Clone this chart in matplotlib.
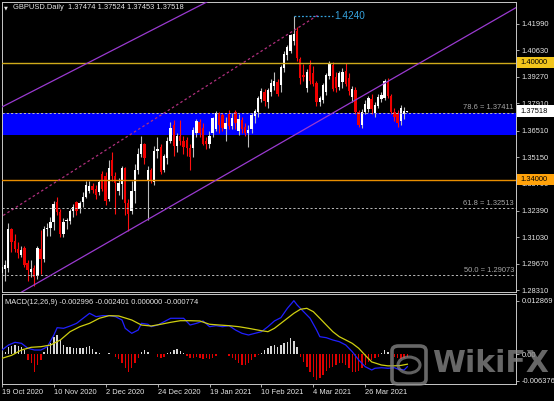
import numpy as np
import matplotlib
matplotlib.use("Agg")
import matplotlib.pyplot as plt
import matplotlib.transforms as mtransforms
from matplotlib.patches import Rectangle, FancyBboxPatch, Circle

plt.rcParams["font.family"] = ["Liberation Sans", "DejaVu Sans"]

# ── Dati (GBPUSD Daily) ────────────────────────────────────────────────────────
opens = [1.2920, 1.2938, 1.2945, 1.3145, 1.3085, 1.3045, 1.3010, 1.3050, 1.2970, 1.2925,
         1.2945, 1.2905, 1.3045, 1.2990, 1.3145, 1.3150, 1.3180, 1.3285, 1.3235, 1.3120,
         1.3185, 1.3185, 1.3240, 1.3285, 1.3250, 1.3285, 1.3310, 1.3340, 1.3365, 1.3350,
         1.3335, 1.3430, 1.3420, 1.3300, 1.3500, 1.3420, 1.3340, 1.3375, 1.3460, 1.3280,
         1.3240, 1.3340, 1.3450, 1.3530, 1.3585, 1.3390, 1.3450, 1.3385, 1.3545, 1.3565,
         1.3450, 1.3510, 1.3600, 1.3680, 1.3570, 1.3625, 1.3600, 1.3605, 1.3560, 1.3560,
         1.3640, 1.3695, 1.3665, 1.3600, 1.3580, 1.3640, 1.3660, 1.3740, 1.3730, 1.3660,
         1.3735, 1.3675, 1.3745, 1.3650, 1.3705, 1.3670, 1.3640, 1.3660, 1.3725, 1.3745,
         1.3815, 1.3850, 1.3800, 1.3850, 1.3880, 1.3900, 1.3885, 1.3975, 1.4040, 1.4060,
         1.4110, 1.4165, 1.4020, 1.3935, 1.3870, 1.3990, 1.3945, 1.3895, 1.3800, 1.3810,
         1.3850, 1.3930, 1.3990, 1.3925, 1.3875, 1.3900, 1.3955, 1.3920, 1.3825, 1.3860,
         1.3745, 1.3680, 1.3745, 1.3760, 1.3815, 1.3740, 1.3780, 1.3815, 1.3820, 1.3900,
         1.3830, 1.3745, 1.3735, 1.3700, 1.3735, 1.37474]
highs = [1.2990, 1.2985, 1.3175, 1.3150, 1.3120, 1.3080, 1.3060, 1.3060, 1.2985, 1.2985,
         1.2960, 1.3060, 1.3140, 1.3160, 1.3177, 1.3210, 1.3290, 1.3312, 1.3250, 1.3200,
         1.3200, 1.3250, 1.3275, 1.3290, 1.3290, 1.3335, 1.3395, 1.3390, 1.3380, 1.3370,
         1.3400, 1.3445, 1.3440, 1.3500, 1.3540, 1.3440, 1.3410, 1.3470, 1.3465, 1.3300,
         1.3390, 1.3480, 1.3560, 1.3625, 1.3590, 1.3470, 1.3460, 1.3570, 1.3620, 1.3580,
         1.3530, 1.3620, 1.3695, 1.3705, 1.3640, 1.3705, 1.3625, 1.3620, 1.3580, 1.3670,
         1.3712, 1.3712, 1.3690, 1.3620, 1.3650, 1.3720, 1.3750, 1.3745, 1.3740, 1.3720,
         1.3757, 1.3740, 1.3758, 1.3735, 1.3720, 1.3690, 1.3680, 1.3740, 1.3760, 1.3830,
         1.3870, 1.3865, 1.3870, 1.3918, 1.3950, 1.3915, 1.3990, 1.4060, 1.4090, 1.4150,
         1.4240, 1.4185, 1.4030, 1.3995, 1.3970, 1.4015, 1.3985, 1.3905, 1.3830, 1.3895,
         1.3945, 1.4010, 1.4005, 1.3950, 1.3960, 1.3975, 1.4000, 1.3945, 1.3880, 1.3875,
         1.3755, 1.3760, 1.3810, 1.3830, 1.3840, 1.3800, 1.3840, 1.3850, 1.3918, 1.3920,
         1.3840, 1.3770, 1.3755, 1.3785, 1.3775, 1.37524]
lows = [1.2905, 1.2880, 1.2925, 1.3030, 1.3030, 1.2995, 1.3000, 1.2950, 1.2880, 1.2900,
        1.2855, 1.2890, 1.2915, 1.2975, 1.3110, 1.3110, 1.3140, 1.3220, 1.3105, 1.3105,
        1.3145, 1.3170, 1.3210, 1.3220, 1.3230, 1.3260, 1.3305, 1.3330, 1.3330, 1.3300,
        1.3320, 1.3340, 1.3270, 1.3290, 1.3390, 1.3225, 1.3320, 1.3300, 1.3220, 1.3135,
        1.3225, 1.3280, 1.3430, 1.3515, 1.3480, 1.3190, 1.3380, 1.3370, 1.3510, 1.3430,
        1.3440, 1.3480, 1.3590, 1.3520, 1.3540, 1.3575, 1.3530, 1.3520, 1.3450, 1.3515,
        1.3620, 1.3620, 1.3575, 1.3555, 1.3560, 1.3620, 1.3650, 1.3640, 1.3650, 1.3600,
        1.3660, 1.3660, 1.3660, 1.3630, 1.3640, 1.3625, 1.3565, 1.3640, 1.3690, 1.3720,
        1.3800, 1.3780, 1.3765, 1.3830, 1.3860, 1.3830, 1.3850, 1.3950, 1.4015, 1.4050,
        1.4090, 1.4010, 1.3890, 1.3905, 1.3850, 1.3890, 1.3880, 1.3780, 1.3780, 1.3795,
        1.3835, 1.3915, 1.3855, 1.3850, 1.3860, 1.3870, 1.3880, 1.3835, 1.3800, 1.3735,
        1.3670, 1.3665, 1.3735, 1.3745, 1.3735, 1.3720, 1.3765, 1.3800, 1.3810, 1.3820,
        1.3735, 1.3700, 1.3670, 1.3680, 1.3710, 1.37453]
closes = [1.2950, 1.2960, 1.3145, 1.3080, 1.3045, 1.3025, 1.3040, 1.2960, 1.2935, 1.2940,
          1.2900, 1.3050, 1.2990, 1.3145, 1.3150, 1.3180, 1.3275, 1.3235, 1.3120, 1.3180,
          1.3190, 1.3240, 1.3260, 1.3240, 1.3280, 1.3310, 1.3370, 1.3365, 1.3345, 1.3320,
          1.3385, 1.3350, 1.3290, 1.3460, 1.3420, 1.3380, 1.3380, 1.3460, 1.3280, 1.3225,
          1.3340, 1.3450, 1.3530, 1.3585, 1.3510, 1.3450, 1.3390, 1.3545, 1.3555, 1.3440,
          1.3520, 1.3600, 1.3665, 1.3570, 1.3625, 1.3600, 1.3565, 1.3560, 1.3515, 1.3655,
          1.3700, 1.3640, 1.3585, 1.3580, 1.3625, 1.3715, 1.3740, 1.3680, 1.3665, 1.3690,
          1.3675, 1.3715, 1.3690, 1.3710, 1.3660, 1.3640, 1.3655, 1.3730, 1.3750, 1.3820,
          1.3855, 1.3805, 1.3860, 1.3895, 1.3905, 1.3840, 1.3980, 1.4045, 1.4080, 1.4140,
          1.4150, 1.4025, 1.3920, 1.3925, 1.3950, 1.3905, 1.3890, 1.3800, 1.3820, 1.3885,
          1.3935, 1.3995, 1.3865, 1.3870, 1.3945, 1.3950, 1.3890, 1.3855, 1.3865, 1.3745,
          1.3680, 1.3745, 1.3790, 1.3820, 1.3760, 1.3785, 1.3825, 1.3835, 1.3905, 1.3830,
          1.3745, 1.3720, 1.3690, 1.3770, 1.3750, 1.37518]

date_bars   = [0, 16, 32, 48, 64, 80, 96, 112]
date_labels = ["19 Oct 2020", "10 Nov 2020", "2 Dec 2020", "24 Dec 2020",
               "19 Jan 2021", "10 Feb 2021", "4 Mar 2021", "26 Mar 2021"]

price_ticks = [1.41990, 1.40630, 1.39270, 1.37910, 1.36510, 1.35150,
               1.33790, 1.32390, 1.31030, 1.29670, 1.28310]

macd_bar = [0, 2, 4, 6, 8, 10, 12, 14, 16, 17, 19, 21, 23, 25, 27, 29, 31, 33, 35, 37,
            38, 40, 42, 43, 45, 46, 48, 50, 52, 54, 56, 58, 60, 62, 64, 66, 68, 70, 72, 74,
            76, 78, 80, 82, 84, 86, 88, 90, 91, 93, 95, 97, 98, 100, 102, 104, 106, 108, 110,
            112, 114, 115, 117, 119, 121, 122, 124, 125]
macd_val = [0.00101, 0.00221, 0.00286, 0.00262, 0.00142, 0.00101, 0.00101, 0.00181, 0.00462,
            0.00638, 0.00623, 0.00678, 0.00743, 0.00864, 0.00984, 0.00903, 0.00927, 0.00927,
            0.00903, 0.00823, 0.00623, 0.00502, 0.00582, 0.00743, 0.00720, 0.00662, 0.00702,
            0.00782, 0.00864, 0.00864, 0.00864, 0.00702, 0.00743, 0.00799, 0.00662, 0.00686,
            0.00662, 0.00686, 0.00582, 0.00502, 0.00462, 0.00502, 0.00542, 0.00662, 0.00799,
            0.00880, 0.01104, 0.01287, 0.01184, 0.01023, 0.00864, 0.00582, 0.00421, 0.00397,
            0.00342, 0.00301, 0.00221, 0.00060, -0.00140, -0.00301, -0.00380, -0.00339,
            -0.00325, -0.00339, -0.00325, -0.00356, -0.00380, -0.00300]
sig_bar = [0, 3, 6, 9, 12, 15, 18, 21, 24, 27, 30, 33, 36, 40, 43, 46, 49, 52, 55, 58, 61,
           64, 67, 70, 73, 76, 80, 82, 84, 86, 88, 90, 92, 94, 96, 98, 100, 102, 104, 106,
           108, 110, 112, 114, 117, 119, 121, 123, 125]
sig_val = [-0.00099, -0.00026, 0.00101, 0.00166, 0.00181, 0.00221, 0.00342, 0.00542, 0.00662,
           0.00743, 0.00864, 0.00927, 0.00919, 0.00823, 0.00702, 0.00678, 0.00720, 0.00767,
           0.00806, 0.00806, 0.00799, 0.00720, 0.00702, 0.00686, 0.00662, 0.00623, 0.00565,
           0.00542, 0.00623, 0.00743, 0.00864, 0.00984, 0.01080, 0.01104, 0.01023, 0.00864,
           0.00702, 0.00542, 0.00421, 0.00342, 0.00261, 0.00142, -0.00026, -0.00186,
           -0.00260, -0.00280, -0.00280, -0.00270, -0.00240]
hist = [0.0002, 0.0006, 0.0018, 0.0020, 0.0022, 0.0020, 0.0018, 0.0010, -0.0014, -0.0022,
        -0.0042, -0.0026, -0.0014, 0.0006, 0.0018, 0.0026, 0.0041, 0.0046, 0.0034, 0.0022,
        0.0018, 0.0017, 0.0016, 0.0014, 0.0016, 0.0014, 0.0018, 0.0020, 0.0012, 0.0006,
        0.0002, 0.0001, 0.0001, 0.0002, 0.0001, -0.0006, -0.0012, -0.0020, -0.0032, -0.0044,
        -0.0034, -0.0022, -0.0008, 0.0006, 0.0010, 0.0006, 0.0001, 0.0001, -0.0006, -0.0008,
        -0.0006, 0.0002, 0.0006, 0.0010, 0.0012, 0.0008, 0.0002, -0.0004, -0.0010, -0.0008,
        -0.0006, -0.0008, -0.0011, -0.0010, -0.0011, -0.0008, -0.0004, 0.0001, 0.0001, 0.0001,
        -0.0005, -0.0010, -0.0014, -0.0020, -0.0025, -0.0026, -0.0022, -0.0014, -0.0006, -0.0002,
        0.0002, 0.0010, 0.0016, 0.0020, 0.0022, 0.0018, 0.0022, 0.0026, 0.0030, 0.0038,
        0.0032, 0.0018, -0.0006, -0.0018, -0.0030, -0.0042, -0.0054, -0.0062, -0.0058, -0.0050,
        -0.0040, -0.0034, -0.0030, -0.0026, -0.0022, -0.0020, -0.0026, -0.0034, -0.0042, -0.0044,
        -0.0040, -0.0034, -0.0026, -0.0018, -0.0014, -0.0010, -0.0006, 0.0002, 0.0010, 0.0006,
        0.0001, -0.0006, -0.0010, -0.0011, -0.0008, -0.000774]
macd_ticks  = [0.012869, 0.0, -0.006376]
macd_labels = ["0.012869", "0.00", "-0.006376"]

# livelli / oggetti disegnati
zone_lo, zone_hi = 1.3627, 1.37411
fib_levels = [(1.37411, "78.6 = 1.37411"), (1.32513, "61.8 = 1.32513"), (1.29073, "50.0 = 1.29073")]
upper_line = [(0.09, 1.3773), (63.2, 1.4312)]
lower_line = [(7.18, 1.2832), (158.8, 1.4286)]
fib_diag   = [(-1.0, 1.3200), (97.5, 1.4245)]
high_mark  = (90, 102, 1.4240)

# ── Layout in pixel ────────────────────────────────────────────────────────────
W, H, DPI = 554, 401, 100
FS = 5.4
TXT = "#E6E6E6"
FRAME = "#C8C8C8"


def box(x0, y0, x1, y1):
    return [x0 / W, 1 - y1 / H, (x1 - x0) / W, (y1 - y0) / H]


fig = plt.figure(figsize=(W / DPI, H / DPI), dpi=DPI, facecolor="black")
ax = fig.add_axes(box(2, 2, 516, 292), facecolor="black")
ax2 = fig.add_axes(box(2, 294, 516, 384), facecolor="black")

XLIM = (0.09, 158.49)
for a in (ax, ax2):
    a.set_xlim(*XLIM)
    for s in a.spines.values():
        s.set_color(FRAME)
        s.set_linewidth(0.7)
ax.set_ylim(1.28222, 1.43120)
ax2.set_ylim(-0.007169, 0.014482)

# ── Pannello prezzi ───────────────────────────────────────────────────────────
ax.axhspan(zone_lo, zone_hi, color="#0000FF", lw=0, zorder=1)

n = len(opens)
idx = np.arange(n)
o, h, l, c = (np.array(v) for v in (opens, highs, lows, closes))
up = c >= o
lo_b = np.minimum(o, c)
hb = np.maximum(np.abs(c - o), 0.00010)
ax.vlines(idx[up], l[up], h[up], color="#BDBDBD", lw=0.8, zorder=3)
ax.vlines(idx[~up], l[~up], h[~up], color="#FF1010", lw=0.8, zorder=3)
ax.bar(idx[up], hb[up], 0.72, bottom=lo_b[up], color="white", lw=0, zorder=4)
ax.bar(idx[~up], hb[~up], 0.72, bottom=lo_b[~up], color="#F00000", lw=0, zorder=4)

ax.axhline(1.40, color="#CFAA1A", lw=1.0, zorder=5)
ax.axhline(1.34, color="#E88E00", lw=1.0, zorder=5)

trans = mtransforms.blended_transform_factory(ax.transAxes, ax.transData)
for lvl, lab in fib_levels:
    ax.axhline(lvl, color="#BBBBBB", lw=0.7, ls=(0, (2.2, 2.2)), zorder=5)
    ax.annotate(lab, xy=(1, lvl), xycoords=trans, xytext=(-1.5, 1.2),
                textcoords="offset points", ha="right", va="bottom",
                fontsize=FS, color="#A8A8A8", zorder=6)

ax.axline(upper_line[0], upper_line[1], color="#9A3AD0", lw=0.9, zorder=5)
ax.axline(lower_line[0], lower_line[1], color="#9A3AD0", lw=0.9, zorder=5)
ax.plot([p[0] for p in fib_diag], [p[1] for p in fib_diag], color="#B0307E",
        lw=0.9, ls=(0, (2, 2)), zorder=5)

ax.plot([high_mark[0], high_mark[1]], [high_mark[2], high_mark[2]], color="#36A2DC",
        lw=0.9, ls=(0, (1.5, 1.5)), zorder=5)
ax.text(high_mark[1] + 0.6, high_mark[2], "1.4240", color="#36A2DC", fontsize=7.2,
        ha="left", va="center", zorder=6)

ax.yaxis.tick_right()
ax.set_yticks(price_ticks)
ax.set_yticklabels([f"{v:.5f}" for v in price_ticks])
ax.tick_params(axis="y", length=2.4, width=0.6, color=FRAME, pad=1.6,
               labelsize=FS, labelcolor=TXT)
ax.set_xticks([])

# etichette prezzo a destra
for price, lab, fc in [(1.40, "1.40000", "#F2C51C"), (1.37518, "1.37518", "white"),
                       (1.34, "1.34000", "#FFA20A")]:
    ax.add_patch(Rectangle((1.002, price - 5.6 / 1946.6), 37 / 514, 11.2 / 1946.6,
                           transform=trans, clip_on=False, fc=fc, ec="none", zorder=20))
    ax.text(1.008, price, lab, transform=trans, clip_on=False, ha="left", va="center",
            fontsize=FS, color="black", zorder=21)

# ── Pannello MACD ─────────────────────────────────────────────────────────────
hv = np.array(hist)
ax2.bar(idx[hv >= 0], hv[hv >= 0], 0.42, color="#D6D6D6", lw=0, zorder=2)
ax2.bar(idx[hv < 0], hv[hv < 0], 0.42, color="#E00000", lw=0, zorder=2)
ax2.plot(macd_bar, macd_val, color="#2020FF", lw=0.9, zorder=3)
ax2.plot(sig_bar, sig_val, color="#CFCF10", lw=0.9, zorder=3)

ax2.yaxis.tick_right()
ax2.set_yticks(macd_ticks)
ax2.set_yticklabels(macd_labels)
ax2.tick_params(axis="y", length=2.4, width=0.6, color=FRAME, pad=1.6,
                labelsize=FS, labelcolor=TXT)
ax2.set_xticks(date_bars)
ax2.set_xticklabels(date_labels, ha="left")
ax2.tick_params(axis="x", length=2.4, width=0.6, color=FRAME, pad=1.2,
                labelsize=FS, labelcolor=TXT)

ax2.text(0.006, 0.95, "MACD(12,26,9) -0.002996 -0.002401 0.000000 -0.000774",
         transform=ax2.transAxes, ha="left", va="top", fontsize=FS, color=TXT, zorder=6)

# ── Intestazione ──────────────────────────────────────────────────────────────
fig.text(4 / W, 1 - 7.5 / H, "\u25bc", fontsize=3.6, color=TXT, ha="left", va="center",
         family="DejaVu Sans")
fig.text(13 / W, 1 - 7.5 / H, "GBPUSD.Daily  1.37474 1.37524 1.37453 1.37518",
         fontsize=FS, color=TXT, ha="left", va="center")

# ── Watermark ─────────────────────────────────────────────────────────────────
wm = "#8A8A8A"
fig.patches.append(FancyBboxPatch((392 / W, 1 - 384 / H), 34 / W, 38 / H,
                                  boxstyle="round,pad=0,rounding_size=0.012",
                                  transform=fig.transFigure, fc="none", ec=wm,
                                  lw=2.6, alpha=0.75, zorder=30))
fig.patches.append(Circle((409 / W, 1 - 365 / H), 11 / W, transform=fig.transFigure,
                          fc="none", ec=wm, lw=2.2, alpha=0.7, zorder=30))
fig.text(432 / W, 1 - 363 / H, "WikiFX", fontsize=21.5, fontweight="bold",
         family="DejaVu Sans", color=wm, alpha=0.75, ha="left", va="center", zorder=31)

fig.savefig("out.png", dpi=DPI, facecolor="black")
